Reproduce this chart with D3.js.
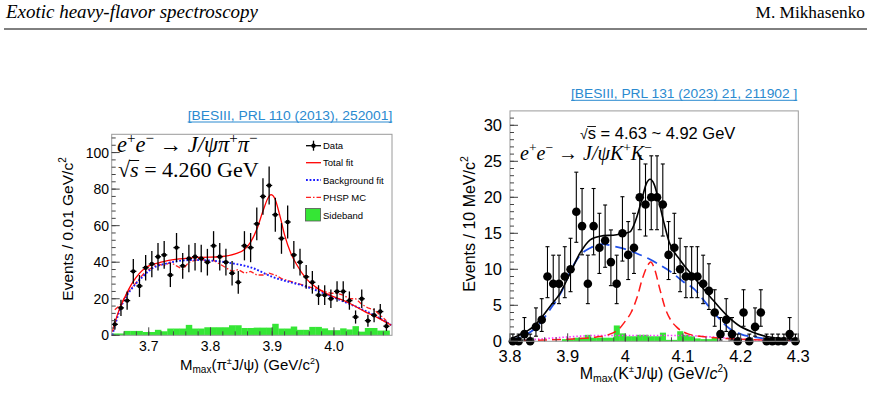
<!DOCTYPE html>
<html>
<head>
<meta charset="utf-8">
<script src="https://cdn.jsdelivr.net/npm/d3@7"></script>
<style>
  body { margin: 0; background: #fff; }
  svg { display: block; }
  text { white-space: pre; }
</style>
</head>
<body>
<div id="chart"></div>
<script>
// ---------------- left panel : e+e- -> J/psi pi+ pi-  (Zc(3900)) ----------------
const zcBinStart = 3.645, zcBinStep = 0.01
const zcCounts = [6,15,19,35,27,37,39,43,44,33,48,38,42,43,42,40,49,43,40,34,29,49,48,61,76,82,66,53,62,44,40,32,29,22,22,20,24,24,19,10,20,8,11,13,5]
const zcErrors = [3,4.5,5,6.8,6,7,7.2,7.5,7.6,6.6,8,7.1,7.5,7.5,7.5,7.3,8,7.5,7.3,6.7,6.2,8,8,9,10,10.4,9.3,8.4,9,7.6,7.3,6.5,6.2,5.4,5.4,5.1,5.6,5.6,5,3.6,5.1,3.3,3.8,4.1,2.6]
const zcSideband = [1,1,2.4,2.4,2.4,1.8,1.8,3,2.2,3.7,3.7,3.7,5.7,3.7,3.7,4.4,4.4,4.4,4.4,5.5,5.5,4,4,4.2,4.2,4.2,6.3,3.7,3.7,4.8,3,3,4.6,4.6,3.8,2.8,2.8,3.8,3.2,5,2,4,4,2.6,2.6]
const zcPhsp = [14,17,23,27,31,35,37,39,38,40,38,36,40,41,42,40,41,39,37,35,36,34,35,33,33,34,33,31,30,29,28,27,26,25,24,23,23,22,20,20,17,15,14,11,8]
const zcTotalX = [3.641,3.65,3.66,3.675,3.695,3.72,3.75,3.785,3.815,3.84,3.855,3.865,3.875,3.885,3.893,3.898,3.904,3.912,3.92,3.93,3.94,3.955,3.97,3.99,4.02,4.05,4.07,4.093]
const zcTotalY = [2,12,20,29.5,37,40,41.8,42.7,43,44.5,47,51,58,68,75,77,75,66,55,45,38.5,31,26.5,22.5,18.4,13,9.8,5.5]
const zcBkgX = [3.641,3.653,3.665,3.675,3.69,3.702,3.73,3.77,3.80,3.835,3.865,3.90,3.955,4.01,4.065,4.093]
const zcBkgY = [0,13.8,22,26.6,32,35.8,39.4,41.2,40.9,39.4,37.2,32,26.6,19.3,11,5.6]
const zcYMajor = [0,20,40,60,80,100]
const zcXMajor = [3.7,3.8,3.9,4.0]
const zcXLabels = ["3.7","3.8","3.9","4.0"]
const zcLegend = ["Data","Total fit","Background fit","PHSP MC","Sideband"]

// ---------------- right panel : e+e- -> J/psi K+ K- ----------------
const kkBinStart = 3.805, kkBinStep = 0.01
const kkCounts = [0,0,1,0,2,3,9,8,8,9,10,18,16,8,16,13,14,11,8,15,12,13,20,19,20,20,19,12,13,10,9,9,9,8,7,4,1,3,1,0,4,0,2,4,0,0,0,0,1,0]
const kkSideband = [0,0,0,0,0,0,0,0,0,0.3,0.3,0.5,0.5,0.9,0.5,0.5,0.5,0.5,2.2,1.1,0.7,0.7,0.9,0.9,0.7,0.7,1.2,0.2,0.2,1.4,0.9,0.7,0.4,0.3,0.3,0.6,0,0,0,0,0,0,0,0,0,0,0,0,0,0]
// poisson (garwood) error bars, indexed by count
const poisLo = [0,0.83,1.29,1.63,1.91,2.16,2.38,2.58,2.77,2.94,3.11,3.27,3.42,3.58,3.72,3.86,3.99,4.12,4.25,4.38,4.50]
const poisHi = [1.0,2.30,2.64,2.92,3.16,3.38,3.58,3.77,3.96,4.14,4.31,4.47,4.63,4.78,4.93,5.08,5.22,5.36,5.49,5.63,5.76]
const kkTotalX = [3.80,3.817,3.84,3.869,3.887,3.904,3.921,3.939,3.956,3.985,4.008,4.018,4.028,4.036,4.043,4.05,4.058,4.066,4.076,4.095,4.118,4.147,4.176,4.195,4.22,4.25,4.30]
const kkTotalY = [0.3,0.9,2,4.8,6.7,9.4,12.2,14.1,14.6,14.8,15.2,16.8,19.5,21.8,22.5,21.8,19.5,16.8,13.8,11.3,9,6.2,3.6,2.3,1.3,0.6,0.3]
const kkBkgX = [3.80,3.83,3.85,3.87,3.89,3.905,3.92,3.94,3.96,3.98,4.00,4.02,4.04,4.06,4.08,4.10,4.12,4.14,4.16,4.18,4.20,4.23,4.26,4.30]
const kkBkgY = [0.2,1,2.3,4.5,7,9.8,11.8,13,13.5,13.2,12.8,12.2,11.5,10.6,9.6,8.3,7.2,5.3,3.4,1.8,1.0,0.5,0.2,0.1]
const kkSigX = [3.80,3.90,3.95,3.97,3.99,4.00,4.01,4.02,4.03,4.04,4.044,4.05,4.06,4.07,4.08,4.09,4.11,4.14,4.20,4.30]
const kkSigY = [0.1,0.3,0.6,0.9,1.8,2.8,4,6,8.8,10.7,11,10.2,7.2,4.4,2.8,1.9,1.0,0.6,0.3,0.1]
const kkMagX = [3.80,3.85,3.90,3.95,4.00,4.05,4.10,4.15,4.20,4.30]
const kkMagY = [0,0.3,0.6,0.8,0.8,0.8,0.8,0.6,0.3,0]
const kkYMajor = [0,5,10,15,20,25,30]
const kkXMajor = [3.8,3.9,4.0,4.1,4.2,4.3]
const kkXLabels = ["3.8","3.9","4","4.1","4.2","4.3"]

// ----------------------------------------------------------
const width = 871, height = 411
const sans = "'Liberation Sans', Arial, Helvetica, sans-serif"
const serif = "'Liberation Serif', 'Times New Roman', serif"

const svg = d3.select("#chart").append("svg")
    .attr("width", width).attr("height", height)

// lays out pieces of text one after another (for super/subscripts)
function rich(g, x, y, parts, base) {
    let cx = x
    parts.forEach(p => {
        const t = g.append("text")
            .attr("x", cx).attr("y", y + (p.dy || 0))
            .attr("xml:space", "preserve")
            .style("font-family", p.family || base.family)
            .style("font-size", (p.size || base.size) + "px")
            .style("font-style", p.italic ? "italic" : "normal")
            .attr("fill", base.fill || "#000")
            .text(p.t)
        p.node = t.node()
        p.x0 = cx
        cx += t.node().getComputedTextLength() + (p.kern || 0)
        p.x1 = cx
    })
    return cx - x
}
function richCentered(g, cx, y, parts, base) {
    const inner = g.append("g")
    const w = rich(inner, 0, y, parts, base)
    inner.attr("transform", `translate(${cx - w / 2},0)`)
    return inner
}

// header
svg.append("text").attr("x", 6).attr("y", 18)
    .style("font-family", serif).style("font-style", "italic").style("font-size", "18px")
    .attr("textLength", 252).attr("lengthAdjust", "spacingAndGlyphs")
    .text("Exotic heavy-flavor spectroscopy")
svg.append("text").attr("x", 865).attr("y", 18).attr("text-anchor", "end")
    .style("font-family", serif).style("font-size", "17.3px")
    .text("M. Mikhasenko")
svg.append("line").attr("x1", 4).attr("x2", 867).attr("y1", 29).attr("y2", 29)
    .attr("stroke", "#000").attr("stroke-width", 1)

function citation(x1, x2, y, label) {
    svg.append("text").attr("x", x1).attr("y", y)
        .style("font-family", sans).style("font-size", "13.7px")
        .attr("textLength", x2 - x1).attr("lengthAdjust", "spacingAndGlyphs")
        .attr("fill", "#2a8ad0").text(label)
    svg.append("line").attr("x1", x1).attr("x2", x2).attr("y1", y + 2).attr("y2", y + 2)
        .attr("stroke", "#2a8ad0").attr("stroke-width", 1)
}

function drawTicks(g, x, y, yMinor, yMajor, xMinor, xMajor) {
    const [x0] = x.range(), [y0] = y.range()
    g.selectAll(".ymin").data(yMinor).join("line")
        .attr("x1", x0).attr("x2", x0 + 4).attr("y1", d => y(d)).attr("y2", d => y(d))
        .attr("stroke", "#444")
    g.selectAll(".ymaj").data(yMajor).join("line")
        .attr("x1", x0).attr("x2", x0 + 8).attr("y1", d => y(d)).attr("y2", d => y(d))
        .attr("stroke", "#444")
    g.selectAll(".xmin").data(xMinor).join("line")
        .attr("y1", y0).attr("y2", y0 - 4).attr("x1", d => x(d)).attr("x2", d => x(d))
        .attr("stroke", "#444")
    g.selectAll(".xmaj").data(xMajor).join("line")
        .attr("y1", y0).attr("y2", y0 - 8).attr("x1", d => x(d)).attr("x2", d => x(d))
        .attr("stroke", "#444")
}

// ================= LEFT PANEL =================
{
    const x = d3.scaleLinear().domain([3.64, 4.094]).range([111.7, 392])
    const y = d3.scaleLinear().domain([0, 110]).range([335.3, 134.3])
    const g = svg.append("g")
    const bins = zcCounts.map((c, i) => ({ m: zcBinStart + i * zcBinStep, c: c, e: zcErrors[i], sb: zcSideband[i], ph: zcPhsp[i] }))

    citation(187.7, 392.3, 120, "[BESIII, PRL 110 (2013), 252001]")

    // sideband histogram
    g.selectAll(".sb").data(bins).join("rect")
        .attr("x", d => x(d.m - zcBinStep / 2))
        .attr("width", d => x(d.m + zcBinStep / 2) - x(d.m - zcBinStep / 2) + 0.3)
        .attr("y", d => y(d.sb))
        .attr("height", d => y(0) - y(d.sb))
        .attr("fill", "#35e635")

    const line = d3.line().x(d => x(d[0])).y(d => y(d[1]))
    g.append("path")
        .attr("d", line.curve(d3.curveLinear)(bins.map(d => [d.m, d.ph])))
        .attr("fill", "none").attr("stroke", "#ff2020").attr("stroke-width", 1.3)
        .attr("stroke-dasharray", "5,2,1.5,2")
    g.append("path")
        .attr("d", line.curve(d3.curveMonotoneX)(zcBkgX.map((v, i) => [v, zcBkgY[i]])))
        .attr("fill", "none").attr("stroke", "#1a1aff").attr("stroke-width", 1.9)
        .attr("stroke-dasharray", "1.8,1.8")
    g.append("path")
        .attr("d", line.curve(d3.curveMonotoneX)(zcTotalX.map((v, i) => [v, zcTotalY[i]])))
        .attr("fill", "none").attr("stroke", "#ff0000").attr("stroke-width", 1.3)

    // data points
    const pts = g.selectAll(".pt").data(bins).join("g")
    pts.append("line")
        .attr("x1", d => x(d.m)).attr("x2", d => x(d.m))
        .attr("y1", d => y(d.c - d.e)).attr("y2", d => y(d.c + d.e))
        .attr("stroke", "#000").attr("stroke-width", 1.3)
    pts.append("line")
        .attr("x1", d => x(d.m - zcBinStep / 2)).attr("x2", d => x(d.m + zcBinStep / 2))
        .attr("y1", d => y(d.c)).attr("y2", d => y(d.c))
        .attr("stroke", "#000").attr("stroke-width", 1.3)
    pts.append("circle")
        .attr("cx", d => x(d.m)).attr("cy", d => y(d.c)).attr("r", 2.2).attr("fill", "#000")

    g.append("rect").attr("x", 111.7).attr("y", 134.3).attr("width", 392 - 111.7).attr("height", 335.3 - 134.3)
        .attr("fill", "none").attr("stroke", "#9a9a9a").attr("stroke-width", 1)
    drawTicks(g, x, y, d3.range(0, 109, 4), zcYMajor, d3.range(3.66, 4.09, 0.02), zcXMajor)

    g.selectAll(".yl").data(zcYMajor).join("text")
        .attr("x", 109).attr("y", d => y(d) + 5).attr("text-anchor", "end")
        .style("font-family", sans).style("font-size", "14px").text(d => d)
    g.selectAll(".xl").data(zcXMajor).join("text")
        .attr("x", d => x(d)).attr("y", 351).attr("text-anchor", "middle")
        .style("font-family", sans).style("font-size", "14px").text((d, i) => zcXLabels[i])

    // axis titles
    richCentered(g, 250, 370, [
        { t: "M" }, { t: "max", size: 10, dy: 3 }, { t: "(π" }, { t: "±", size: 9, dy: -6 },
        { t: "J/ψ) (GeV/c" }, { t: "2", size: 9, dy: -6 }, { t: ")" }
    ], { family: sans, size: 15 })
    const yl = g.append("g").attr("transform", "translate(73,229) rotate(-90)")
    richCentered(yl, 0, 0, [{ t: "Events / 0.01 GeV/c" }, { t: "2", size: 10, dy: -7 }], { family: sans, size: 15.5 })

    // process label
    rich(g, 117, 152, [
        { t: "e", italic: true }, { t: "+", size: 15, dy: -9 }, { t: "e", italic: true }, { t: "−", size: 15, dy: -9 },
        { t: " → " }, { t: "J/ψπ", italic: true }, { t: "+", size: 15, dy: -9 }, { t: "π", italic: true }, { t: "−", size: 15, dy: -9 }
    ], { family: serif, size: 22.5 })
    const sq = [{ t: "√" }, { t: "s", italic: true }, { t: " = 4.260 GeV" }]
    rich(g, 118, 177, sq, { family: serif, size: 22 })
    g.append("line").attr("x1", sq[0].x1 - 1).attr("x2", sq[1].x1 + 0.5).attr("y1", 160.5).attr("y2", 160.5)
        .attr("stroke", "#000").attr("stroke-width", 1)

    // legend
    const lg = g.append("g")
    const ly = [145.7, 162.7, 180, 197.3, 215]
    lg.selectAll("text").data(zcLegend).join("text")
        .attr("x", 323).attr("y", (d, i) => ly[i] + 3.5)
        .style("font-family", sans).style("font-size", "9.5px").text(d => d)
    lg.append("line").attr("x1", 306).attr("x2", 321).attr("y1", ly[0]).attr("y2", ly[0]).attr("stroke", "#000").attr("stroke-width", 1.3)
    lg.append("line").attr("x1", 313.5).attr("x2", 313.5).attr("y1", ly[0] - 5).attr("y2", ly[0] + 5).attr("stroke", "#000").attr("stroke-width", 1.3)
    lg.append("circle").attr("cx", 313.5).attr("cy", ly[0]).attr("r", 2.2)
    lg.append("line").attr("x1", 306).attr("x2", 321).attr("y1", ly[1]).attr("y2", ly[1]).attr("stroke", "#ff0000").attr("stroke-width", 1.3)
    lg.append("line").attr("x1", 306).attr("x2", 321).attr("y1", ly[2]).attr("y2", ly[2]).attr("stroke", "#1a1aff").attr("stroke-width", 1.9).attr("stroke-dasharray", "1.8,1.8")
    lg.append("line").attr("x1", 306).attr("x2", 321).attr("y1", ly[3]).attr("y2", ly[3]).attr("stroke", "#ff2020").attr("stroke-width", 1.3).attr("stroke-dasharray", "5,2,1.5,2")
    lg.append("rect").attr("x", 305.5).attr("y", ly[4] - 6.5).attr("width", 15).attr("height", 12.5)
        .attr("fill", "#35e635").attr("stroke", "#555").attr("stroke-width", 0.8)
}

// ================= RIGHT PANEL =================
{
    const x = d3.scaleLinear().domain([3.8, 4.3]).range([510, 798.3])
    const y = d3.scaleLinear().domain([0, 32]).range([341.3, 110.9])
    const g = svg.append("g")
    const bins = kkCounts.map((c, i) => ({ m: kkBinStart + i * kkBinStep, c: c, sb: kkSideband[i] }))

    citation(571, 797.3, 98.3, "[BESIII, PRL 131 (2023) 21, 211902 ]")

    g.selectAll(".sb").data(bins).join("rect")
        .attr("x", d => x(d.m - kkBinStep / 2))
        .attr("width", d => x(d.m + kkBinStep / 2) - x(d.m - kkBinStep / 2) + 0.3)
        .attr("y", d => y(d.sb))
        .attr("height", d => y(0) - y(d.sb))
        .attr("fill", "#35e635")

    const line = d3.line().x(d => x(d[0])).y(d => y(d[1])).curve(d3.curveMonotoneX)
    g.append("path").attr("d", line(kkMagX.map((v, i) => [v, kkMagY[i]])))
        .attr("fill", "none").attr("stroke", "#ff33ff").attr("stroke-width", 1.6).attr("stroke-dasharray", "1.5,2")
    g.append("path").attr("d", line(kkBkgX.map((v, i) => [v, kkBkgY[i]])))
        .attr("fill", "none").attr("stroke", "#2050e8").attr("stroke-width", 1.8).attr("stroke-dasharray", "11,6")
    g.append("path").attr("d", line(kkSigX.map((v, i) => [v, kkSigY[i]])))
        .attr("fill", "none").attr("stroke", "#ff1a1a").attr("stroke-width", 1.5).attr("stroke-dasharray", "9,5")
    g.append("path").attr("d", line(kkTotalX.map((v, i) => [v, kkTotalY[i]])))
        .attr("fill", "none").attr("stroke", "#000").attr("stroke-width", 1.6)

    const pts = g.selectAll(".pt").data(bins).join("g")
    pts.append("line")
        .attr("x1", d => x(d.m)).attr("x2", d => x(d.m))
        .attr("y1", d => y(d.c - poisLo[d.c])).attr("y2", d => y(d.c + poisHi[d.c]))
        .attr("stroke", "#000").attr("stroke-width", 1.1)
    pts.append("line")
        .attr("x1", d => x(d.m) - 2).attr("x2", d => x(d.m) + 2)
        .attr("y1", d => y(d.c + poisHi[d.c])).attr("y2", d => y(d.c + poisHi[d.c]))
        .attr("stroke", "#000").attr("stroke-width", 1.1)
    pts.filter(d => d.c > 0).append("line")
        .attr("x1", d => x(d.m) - 2).attr("x2", d => x(d.m) + 2)
        .attr("y1", d => y(d.c - poisLo[d.c])).attr("y2", d => y(d.c - poisLo[d.c]))
        .attr("stroke", "#000").attr("stroke-width", 1.1)
    pts.append("circle")
        .attr("cx", d => x(d.m)).attr("cy", d => y(d.c)).attr("r", 4.3).attr("fill", "#000")

    g.append("rect").attr("x", 510).attr("y", 110.9).attr("width", 798.3 - 510).attr("height", 341.3 - 110.9)
        .attr("fill", "none").attr("stroke", "#9a9a9a").attr("stroke-width", 1)
    drawTicks(g, x, y, d3.range(0, 32, 1), kkYMajor, d3.range(3.82, 4.29, 0.02), kkXMajor)

    g.selectAll(".yl").data(kkYMajor).join("text")
        .attr("x", 502).attr("y", d => y(d) + 6).attr("text-anchor", "end")
        .style("font-family", sans).style("font-size", "16.5px").text(d => d)
    g.selectAll(".xl").data(kkXMajor).join("text")
        .attr("x", d => x(d)).attr("y", 362).attr("text-anchor", "middle")
        .style("font-family", sans).style("font-size", "16.5px").text((d, i) => kkXLabels[i])

    richCentered(g, 654, 378.5, [
        { t: "M" }, { t: "max", size: 10.5, dy: 3.5 }, { t: "(K" }, { t: "±", size: 9.5, dy: -6.5 },
        { t: "J/ψ) (GeV/" }, { t: "c", italic: true }, { t: "2", size: 10, dy: -7 }, { t: ")" }
    ], { family: sans, size: 16 })
    const yl = g.append("g").attr("transform", "translate(475,224) rotate(-90)")
    richCentered(yl, 0, 0, [{ t: "Events / 10 MeV/c" }, { t: "2", size: 10.5, dy: -7 }], { family: sans, size: 16 })

    // sqrt(s) label: radical + one text, bar over the "s"
    const sq = [{ t: "√", size: 14 }, { t: "s = 4.63 ~ 4.92 GeV" }]
    rich(g, 580, 138.5, sq, { family: sans, size: 16.5 })
    const sW = sq[1].node.getSubStringLength(0, 1)
    g.append("line").attr("x1", sq[0].x1 - 0.5).attr("x2", sq[1].x0 + sW).attr("y1", 126.5).attr("y2", 126.5)
        .attr("stroke", "#000").attr("stroke-width", 0.9)

    rich(g, 520, 159.5, [
        { t: "e", italic: true }, { t: "+", size: 13.5, dy: -8 }, { t: "e", italic: true }, { t: "−", size: 13.5, dy: -8 },
        { t: " → " }, { t: "J/ψK", italic: true }, { t: "+", size: 13.5, dy: -8 }, { t: "K", italic: true }, { t: "−", size: 13.5, dy: -8 }
    ], { family: serif, size: 20 })
}
</script>
</body>
</html>
